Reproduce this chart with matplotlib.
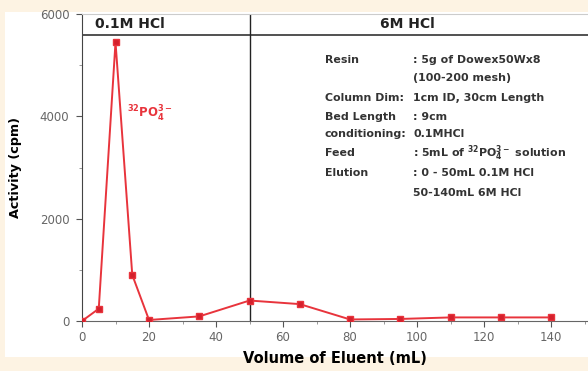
import numpy as np
import matplotlib
matplotlib.use('Agg')
import matplotlib.pyplot as plt
from matplotlib.patches import Rectangle

plt.rcParams['font.family'] = ['DejaVu Sans']
plt.rcParams['mathtext.fontset'] = 'dejavusans'

volume = [0, 5, 10, 15, 20, 35, 50, 65, 80, 95, 110, 125, 140]
activity = [0, 240, 5450, 900, 20, 90, 400, 330, 30, 40, 70, 70, 70]

info_labels = ['Resin', '', 'Column Dim:', 'Bed Length', 'conditioning:', 'Feed', 'Elution', '']
info_values = [': 5g of Dowex50Wx8', '(100-200 mesh)', '1cm ID, 30cm Length', ': 9cm',
               '0.1MHCl', r': 5mL of $^{\mathbf{32}}\mathbf{PO}_{\mathbf{4}}^{\mathbf{3-}}$ solution',
               ': 0 - 50mL 0.1M HCl', '50-140mL 6M HCl']
info_y = [5100, 4750, 4360, 3990, 3650, 3280, 2890, 2500]

fig = plt.figure(figsize=(5.88, 3.71), dpi=100)
fig.patch.set_facecolor('#fdf3e3')
bg = Rectangle((5/588, 14/371), 1, 1 - 26/371, transform=fig.transFigure,
               facecolor='white', edgecolor='none', zorder=-10)
fig.add_artist(bg)

ax = fig.add_axes([82/588, 50/371, 506/588, 307/371])
ax.set_facecolor('white')
red = '#e8343c'
ax.plot(volume, activity, color=red, lw=1.4, marker='s', ms=5,
        markerfacecolor='#d4202c', markeredgecolor=red, zorder=3)

ax.set_xlim(0, 151)
ax.set_ylim(0, 6000)
ax.set_xticks(np.arange(0, 141, 20))
ax.set_xticks(np.arange(10, 151, 20), minor=True)
ax.set_yticks([0, 2000, 4000, 6000])
ax.set_yticks([1000, 3000, 5000], minor=True)
ax.tick_params(axis='both', which='major', direction='out', length=4, labelsize=8.5,
               labelcolor='#666666', color='#555555')
ax.tick_params(axis='y', which='major', pad=5)
ax.tick_params(axis='both', which='minor', direction='out', length=2, color='#888888')
ax.spines['right'].set_visible(False)
ax.spines['top'].set_color('#cccccc')
ax.spines['left'].set_color('#444444')
ax.spines['bottom'].set_color('#666666')

ax.axhline(5590, color='#333333', lw=1.2)
ax.axvline(50, color='#222222', lw=1.0)

ax.text(4, 5800, '0.1M HCl', fontsize=10, fontweight='bold', va='center', color='#222222')
ax.text(97, 5800, '6M HCl', fontsize=10, fontweight='bold', va='center', ha='center', color='#222222')
ax.text(13.5, 4040, r'$^{\mathbf{32}}\mathbf{PO}_{\mathbf{4}}^{\mathbf{3-}}$', fontsize=8.5,
        color=red, va='center')

for lab, val, y in zip(info_labels, info_values, info_y):
    ax.text(72.5, y, lab, fontsize=7.9, fontweight='bold', color='#333333', va='center')
    ax.text(98.8, y, val, fontsize=7.9, fontweight='bold', color='#333333', va='center')

ax.set_xlabel('Volume of Eluent (mL)', fontsize=10.5, fontweight='bold', labelpad=5)
ax.set_ylabel('Activity (cpm)', fontsize=9.2, fontweight='bold')
ax.yaxis.set_label_coords(-0.118, 0.5)

fig.savefig('out.png', dpi=100, facecolor=fig.get_facecolor())
